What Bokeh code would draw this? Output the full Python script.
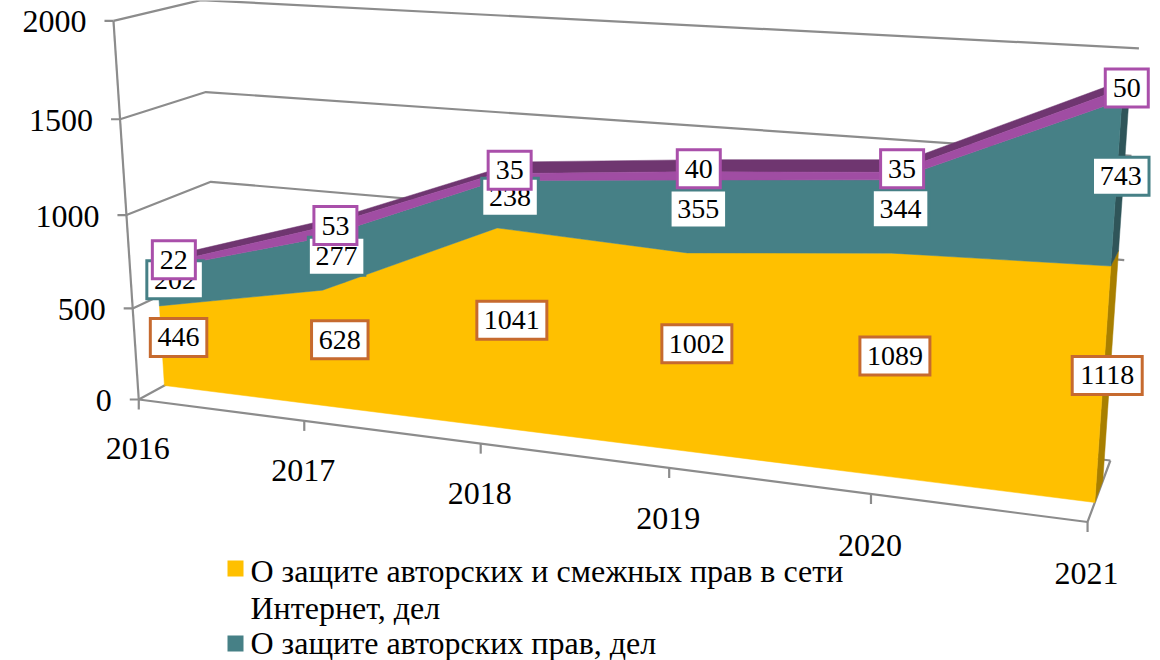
import numpy as np
from bokeh.embed import file_html
from bokeh.models import Range1d
from bokeh.plotting import figure
from bokeh.resources import INLINE
from bokeh.core.properties import value

categories = ["2016", "2017", "2018", "2019", "2020", "2021"]
internet = [446, 628, 1041, 1002, 1089, 1118]
author = [202, 277, 238, 355, 344, 743]
other = [22, 53, 35, 40, 35, 50]
value_ticks = [0, 500, 1000, 1500, 2000]
legend_lines = ["О защите авторских и смежных прав в сети", "Интернет, дел", "О защите авторских прав, дел"]

# camera calibration for the pseudo-3D view: (u along categories, w depth, value) -> screen px
CAL = [
 (0,0,0,139,400),(.2,0,0,303,422),(.4,0,0,480,443),(.6,0,0,668,467),(.8,0,0,870,494),(1,0,0,1088,520),
 (0,0,500,133,307),(0,0,1000,126,214),(0,0,1500,119,118),(0,0,2000,113,21),
 (0,1,1000,210,181),(0,1,1500,206,91),(0,1,2000,200,0),
 (1,1,0,1110,460),(1,1,1000,1123,260),(1,1,1500,1130,155),(1,1,2000,1140,48),
 (0,.3,0,164,385),(1,.3,0,1095,502),(0,.3,446,158,305),(.2,.3,628,323,290),(.4,.3,1041,497,228),
 (.6,.3,1002,687,252),(.8,.3,1089,890,253),(1,.3,1118,1110,266),
]
A, B = [], []
for u, w, v, x, y in CAL:
    A.append([u, w, v, 1, 0, 0, 0, 0, -x*u, -x*w, -x*v]); B.append(x)
    A.append([0, 0, 0, 0, u, w, v, 1, -y*u, -y*w, -y*v]); B.append(y)
P = np.append(np.linalg.lstsq(np.array(A, float), np.array(B, float), rcond=None)[0], 1).reshape(3, 4)

def proj(u, w, v):
    h = P @ np.array([u, w, v, 1.0])
    return h[0]/h[2], h[1]/h[2]

W, H = 1160, 660
p = figure(width=W, height=H, x_range=Range1d(0, W), y_range=Range1d(H, 0),
           output_backend="svg", toolbar_location=None, min_border=0)
p.axis.visible = False
p.grid.visible = False
p.outline_line_color = None
GREY = "#8c8c8c"
def seg(pts, **kw):
    p.line([a[0] for a in pts], [a[1] for a in pts], line_color=GREY, line_width=2.2, **kw)

for v in value_ticks:
    a, b, c = proj(0,0,v), proj(0,1,v), proj(1,1,v)
    seg([a, b, c])
    seg([(a[0]-9, a[1]), a])
seg([proj(0,0,0), proj(0,0,2000)])
seg([proj(0,0,0), proj(1,0,0), proj(1,1,0)])
n = len(categories)
US = [i/(n-1) for i in range(n)]
for u in US:
    a = proj(u,0,0)
    seg([a, (a[0], a[1]+10)])

F, D = 0.3, 0.65
s1 = list(internet)
s2 = [a+b for a, b in zip(s1, author)]
s3 = [a+b for a, b in zip(s2, other)]
zero = [0]*n
def face(lo, hi, col):
    pts = [proj(u,F,v) for u, v in zip(US, hi)] + [proj(u,F,v) for u, v in zip(US[::-1], lo[::-1])]
    p.patch([a[0] for a in pts], [a[1] for a in pts], fill_color=col, line_color=col, line_width=0.5)
def side(lo, hi, col):
    pts = [proj(1,F,lo[-1]), proj(1,D,lo[-1]), proj(1,D,hi[-1]), proj(1,F,hi[-1])]
    p.patch([a[0] for a in pts], [a[1] for a in pts], fill_color=col, line_color=col, line_width=0.5)
# top face
pts = [proj(u,D,v) for u, v in zip(US, s3)] + [proj(u,F,v) for u, v in zip(US[::-1], s3[::-1])]
p.patch([a[0] for a in pts], [a[1] for a in pts], fill_color="#6f3670", line_color="#6f3670", line_width=0.5)
side(zero, s1, "#a87f00"); side(s1, s2, "#2f5559"); side(s2, s3, "#6f3670")
face(zero, s1, "#ffc000"); face(s1, s2, "#468086"); face(s2, s3, "#a04da3")

F_SER = value("Liberation Serif")
# axis texts
for v in value_ticks:
    a = proj(0,0,v)
    p.text([a[0]-27], [a[1]+1], [str(v)], text_font=F_SER, text_font_size="32px", text_align="right", text_baseline="middle", text_color="#000000")
for i, (u, c) in enumerate(zip(US, categories)):
    a = proj(u,0,0)
    p.text([a[0]-1], [a[1]+49+0.6*i], [c], text_font=F_SER, text_font_size="32px", text_align="center", text_baseline="middle", text_color="#000000")

def labels(lo, hi, vals, col):
    for u, l, h, t in zip(US, lo, hi, vals):
        c = proj(u, 0.5, (l+h)/2)
        w_ = len(str(t))*13.5+16
        p.rect([c[0]],[c[1]],width=w_,height=38,fill_color="#ffffff",line_color=col,line_width=3,line_join="miter")
        p.text([c[0]],[c[1]],[str(t)],text_font=F_SER,text_font_size="28px",text_align="center",text_baseline="middle",text_color="#000000")
labels(zero, s1, internet, "#c66a2f")
labels(s1, s2, author, "#468086")
labels(s2, s3, other, "#a94faa")

# legend
p.text([250,250,250],[570,607,642],legend_lines,text_font=F_SER,text_font_size="32px",text_align="left",text_baseline="middle",text_color="#000000")
p.rect([235,235],[568,643],width=16,height=16,fill_color=["#ffc000","#468086"],line_color=None)
open("out.html","w").write(file_html(p, INLINE))
